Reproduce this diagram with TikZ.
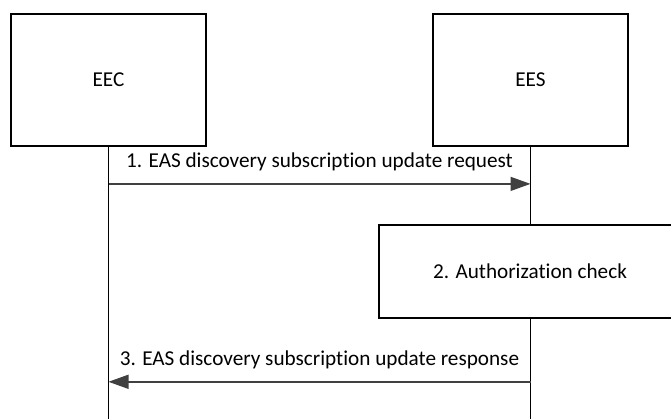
\documentclass[tikz,border=0pt]{standalone}
\usepackage{fontspec}
\setmainfont{Carlito}[Ligatures=NoCommon]
\usetikzlibrary{arrows.meta,positioning}

\begin{document}
\begin{tikzpicture}[
  x=1pt, y=-1pt,
  font=\fontsize{21.2}{25}\selectfont,
  >={Triangle[length=20pt,width=14pt]},
  entity/.style={draw, line width=1.8pt, inner sep=0pt,
    minimum width=195pt, minimum height=132pt},
  lifeline/.style={line width=1.8pt},
  msg/.style={->, draw=black!75, line width=1.5pt},
  msglabel/.style={midway, above=12pt, inner sep=0pt},
]
\useasboundingbox (0,0) rectangle (671,419);

% entities
\node[entity] (eec) at (108.5,80) {EEC};
\node[entity] (ees) at (530.5,80) {EES};

% step 2 box, runs off the right edge
\node[entity, anchor=north, minimum width=302pt, minimum height=93pt]
  (auth) at (530,224) {2. Authorization check};

% lifelines
\coordinate (eecend) at (eec.south |- 0,419);
\coordinate (eesend) at (ees.south |- 0,419);
\draw[lifeline] (eec.south) -- (eecend);
\draw[lifeline] (ees.south) -- (ees.south |- auth.north);
\draw[lifeline] (ees.south |- auth.south) -- (eesend);

% messages
\coordinate (reqa) at ([yshift=-37pt]eec.south);
\coordinate (reqb) at (reqa -| ees.south);
\draw[msg] (reqa) -- (reqb)
  node[msglabel] (reqlbl) {1. EAS discovery subscription update request};

\coordinate (respa) at ([yshift=-63pt]auth.south -| ees.south);
\coordinate (respb) at (respa -| eec.south);
\draw[msg] (respa) -- (respb)
  node[msglabel] (resplbl) {3. EAS discovery subscription update response};

\end{tikzpicture}
\end{document}
